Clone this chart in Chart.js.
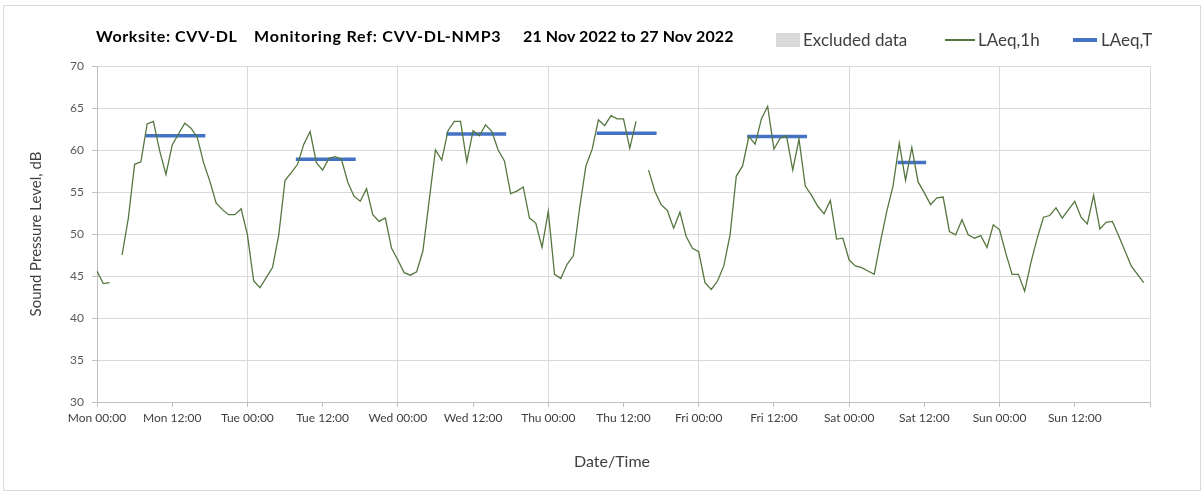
<!DOCTYPE html>
<html>
<head>
<meta charset="utf-8">
<title>CVV-DL NMP3</title>
<script src="https://cdn.jsdelivr.net/npm/chart.js@4.4.1/dist/chart.umd.min.js"></script>
<style>
  body { margin: 0; background: #fff; font-family: Lato, sans-serif; }
  #wrap { position: relative; width: 1203px; height: 494px; overflow: hidden; }
  #frame { position: absolute; left: 3px; top: 5px; width: 1196px; height: 484px; border: 1px solid #d9d9d9; }
  #chart { position: absolute; left: 0; top: 0; }
  .ttl { position: absolute; top: 27px; font-size: 16px; font-weight: bold; color: #000; white-space: nowrap; line-height: 18px; }
  .leg { position: absolute; top: 31px; font-size: 17px; color: #404040; white-space: nowrap; line-height: 18px; }
  .swatch { position: absolute; }
  #xtitle { position: absolute; top: 451px; left: 512px; width: 200px; text-align: center; font-size: 16px; color: #404040; line-height: 20px; }
</style>
</head>
<body>
<div id="wrap">
  <div id="frame"></div>
  <canvas id="chart" width="1203" height="494"></canvas>

  <div class="ttl" style="left:96px; letter-spacing:0.6px">Worksite: CVV-DL</div>
  <div class="ttl" style="left:254px; letter-spacing:0.8px">Monitoring Ref: CVV-DL-NMP3</div>
  <div class="ttl" style="left:523px; letter-spacing:0.1px">21 Nov 2022 to 27 Nov 2022</div>

  <div class="swatch" style="left:776px; top:33px; width:24px; height:14px; background:#d9d9d9"></div>
  <div class="leg" style="left:803px">Excluded data</div>
  <div class="swatch" style="left:945px; top:39px; width:30px; height:1.5px; background:#55773f"></div>
  <div class="leg" style="left:978px">LAeq,1h</div>
  <div class="swatch" style="left:1073px; top:38px; width:24px; height:3.5px; background:#4472c4"></div>
  <div class="leg" style="left:1101px">LAeq,T</div>

  <div id="xtitle">Date/Time</div>
</div>

<script>
// x axis labels, one every 12 hours
const tickLabels = ['Mon 00:00', 'Mon 12:00', 'Tue 00:00', 'Tue 12:00', 'Wed 00:00', 'Wed 12:00',
  'Thu 00:00', 'Thu 12:00', 'Fri 00:00', 'Fri 12:00', 'Sat 00:00', 'Sat 12:00', 'Sun 00:00', 'Sun 12:00'];

// LAeq,1h per hour of each day (null = no data)
const mon = [45.6, 44.1, 44.2, null, 47.5, 51.9, 58.3, 58.6, 63.1, 63.4, 59.9, 57.1,
  60.6, 61.9, 63.2, 62.6, 61.5, 58.5, 56.3, 53.7, 52.9, 52.3, 52.3, 53.0];
const tue = [49.9, 44.4, 43.6, 44.8, 46.0, 49.9, 56.4, 57.3, 58.3, 60.7, 62.2, 58.5,
  57.6, 59.0, 59.2, 58.9, 56.2, 54.5, 53.9, 55.4, 52.3, 51.5, 51.9, 48.3];
const wed = [46.9, 45.4, 45.1, 45.5, 48.0, 54.0, 60.0, 58.8, 62.3, 63.4, 63.4, 58.6,
  62.3, 61.7, 63.0, 62.2, 60.0, 58.7, 54.8, 55.1, 55.6, 51.9, 51.3, 48.4];
const thu = [52.7, 45.2, 44.7, 46.4, 47.4, 53.1, 58.1, 60.1, 63.6, 62.9, 64.1, 63.7,
  63.7, 60.2, 63.4, null, 57.6, 55.1, 53.5, 52.8, 50.7, 52.6, 49.7, 48.3];
const fri = [47.9, 44.2, 43.4, 44.4, 46.2, 49.9, 56.9, 58.1, 61.6, 60.7, 63.7, 65.2,
  60.1, 61.4, 61.7, 57.6, 61.3, 55.7, 54.6, 53.3, 52.4, 54.0, 49.4, 49.5];
const sat = [46.9, 46.2, 46.0, 45.6, 45.2, 49.1, 52.7, 55.7, 60.8, 56.4, 60.3, 56.2,
  54.9, 53.5, 54.3, 54.4, 50.3, 49.9, 51.7, 49.9, 49.5, 49.8, 48.4, 51.1];
const sun = [50.5, 47.7, 45.2, 45.2, 43.2, 46.6, 49.5, 52.0, 52.2, 53.1, 51.9, 52.9,
  53.9, 52.0, 51.2, 54.6, 50.6, 51.4, 51.5, 49.8, 48.0, 46.2, 45.2, 44.2];

// LAeq,T daytime periods (hours from Mon 00:00)
const periodStart = [8, 32, 56, 80, 104, 128];
const periodEnd = [17, 41, 65, 89, 113, 132];
const periodLevel = [61.7, 58.9, 61.9, 62.0, 61.6, 58.5];

const hourly = [].concat(mon, tue, wed, thu, fri, sat, sun);
const hourlyPoints = hourly.map((y, i) => ({ x: i, y }));

const periodPoints = [];
periodStart.forEach((s, i) => {
  periodPoints.push({ x: s, y: periodLevel[i] });
  periodPoints.push({ x: periodEnd[i], y: periodLevel[i] });
  periodPoints.push({ x: periodEnd[i] + 0.5, y: null }); // break between periods
});

const ctx = document.getElementById('chart').getContext('2d');
new Chart(ctx, {
  type: 'line',
  data: {
    datasets: [
      {
        label: 'LAeq,1h',
        data: hourlyPoints,
        borderColor: '#55773f',
        borderWidth: 1.3,
        pointRadius: 0,
        tension: 0,
        spanGaps: false
      },
      {
        label: 'LAeq,T',
        data: periodPoints,
        borderColor: '#4472c4',
        borderWidth: 3.5,
        borderCapStyle: 'square',
        pointRadius: 0,
        spanGaps: false
      }
    ]
  },
  options: {
    responsive: false,
    animation: false,
    layout: { padding: { left: 0, right: 53, top: 66, bottom: 0 } },
    plugins: {
      legend: { display: false },
      title: { display: false },
      tooltip: { enabled: false }
    },
    scales: {
      x: {
        type: 'linear',
        min: 0,
        max: 168,
        afterFit: function(scale) { scale.height = 92; },
        ticks: {
          stepSize: 12,
          autoSkip: false,
          maxRotation: 0,
          padding: 4,
          color: '#404040',
          font: { family: 'Lato', size: 12 },
          callback: function(value) {
            return tickLabels[value / 12] || '';
          }
        },
        grid: {
          color: function(c) {
            if (!c.tick) return 'rgba(0,0,0,0)';
            return c.tick.value % 24 === 0 ? '#d9d9d9' : 'rgba(0,0,0,0)';
          },
          tickColor: '#bfbfbf',
          tickLength: 5
        },
        border: { color: '#bfbfbf' }
      },
      y: {
        min: 30,
        max: 70,
        afterFit: function(scale) { scale.width = 97; },
        ticks: {
          stepSize: 5,
          padding: 8,
          color: '#595959',
          font: { family: 'Lato', size: 12 }
        },
        grid: {
          color: '#d9d9d9',
          tickColor: '#bfbfbf',
          tickLength: 5
        },
        border: { color: '#bfbfbf' },
        title: {
          display: true,
          text: 'Sound Pressure Level, dB',
          color: '#404040',
          font: { family: 'Lato', size: 15 },
          padding: { top: 27, bottom: 0 }
        }
      }
    }
  }
});
</script>
</body>
</html>
